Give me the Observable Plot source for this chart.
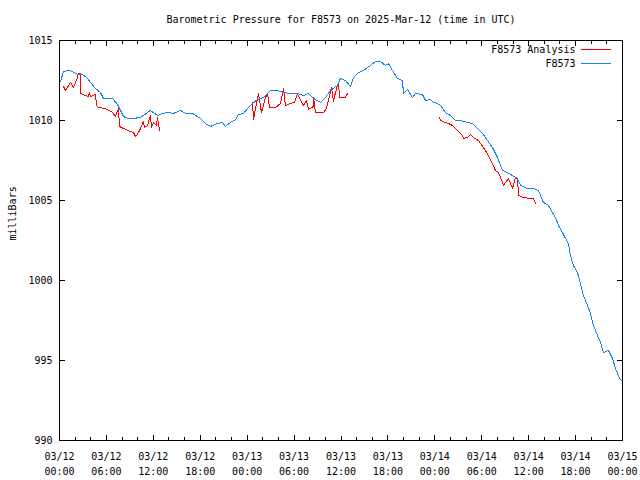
<!DOCTYPE html>
<html><head><meta charset="utf-8">
<script src="https://cdn.jsdelivr.net/npm/d3@7"></script>
<script src="https://cdn.jsdelivr.net/npm/@observablehq/plot@0.6"></script>
<style>
body{margin:0;background:#fff}
#chart svg{shape-rendering:crispEdges}
</style>
</head><body><div id="chart"></div>
<script>
const title = "Barometric Pressure for F8573 on 2025-Mar-12 (time in UTC)";
const yLabel = "milliBars";
const seriesNames = ["F8573 Analysis", "F8573"];
const seriesColors = ["#ff0000", "#1585f0"];

// hours since 2025-03-12 00:00 UTC
const stationHours = [0.13,0.51,1.28,2.30,2.94,3.58,3.96,4.60,5.24,5.63,6.78,7.42,8.18,8.70,9.46,10.36,11.25,11.64,12.53,13.17,13.81,14.58,15.47,16.11,17.01,18.03,18.67,19.31,20.20,20.84,21.23,21.87,22.51,22.89,23.53,24.17,24.68,25.32,26.09,26.98,27.88,28.64,29.54,30.43,31.20,31.84,32.48,33.38,34.02,34.65,35.55,35.93,36.57,37.21,37.60,38.24,38.87,39.77,40.41,41.05,41.69,42.07,42.58,43.22,43.86,43.99,44.50,45.14,45.52,46.42,46.80,47.44,47.83,48.34,48.72,49.36,50.00,50.64,51.28,52.17,52.81,53.45,54.09,54.73,55.37,56.01,56.65,57.29,57.93,58.57,58.95,59.85,60.61,61.25,61.51,61.89,62.53,63.04,63.43,63.81,64.32,64.71,65.09,65.35,65.73,66.24,66.62,67.01,67.52,67.90,68.29,68.80,69.18,69.57,70.20,70.72,71.10,71.61,72.00];
const stationPressure = [1012.44,1013.06,1013.13,1012.88,1012.88,1012.63,1012.38,1012.00,1011.75,1011.38,1011.38,1011.00,1010.25,1010.13,1010.13,1010.19,1010.50,1010.63,1010.31,1010.44,1010.50,1010.44,1010.63,1010.44,1010.44,1010.13,1009.81,1009.63,1009.81,1009.88,1009.63,1009.88,1010.06,1010.38,1010.44,1010.81,1011.06,1011.31,1011.44,1011.88,1011.88,1011.75,1011.69,1011.69,1011.56,1011.69,1011.38,1011.13,1011.44,1011.88,1012.19,1012.63,1012.50,1012.13,1012.69,1013.00,1013.13,1013.44,1013.69,1013.69,1013.44,1013.56,1013.13,1012.63,1012.50,1011.69,1011.94,1011.44,1011.69,1011.63,1011.25,1011.31,1011.13,1011.06,1010.94,1010.50,1010.31,1010.00,1010.00,1009.88,1009.81,1009.50,1009.19,1008.75,1008.31,1007.69,1006.88,1006.75,1006.56,1006.38,1005.94,1005.75,1005.75,1005.63,1005.31,1004.88,1004.69,1004.25,1003.94,1003.44,1003.00,1002.63,1002.31,1001.56,1000.94,1000.50,999.81,999.06,998.44,997.94,997.19,996.56,996.13,995.50,995.63,995.13,994.50,993.88,993.69];

const analysisSegment = [1,1,1,1,1,1,1,1,1,1,1,1,1,1,1,1,1,1,1,1,1,1,1,1,1,1,1,1,1,1,1,1,1,1,1,
  2,2,2,2,2,2,2,2,2,2,2,2,2,2,2,2,2,2,2,2,2,2,2,2,2,2,2,2,2,2,2,
  3,3,3,3,3,3,3,3,3,3,3,3,3,3,3,3,3,3,3,3,3,3,3,3,3,3,3,3];
const analysisHours = [0.51,0.77,1.41,1.79,2.30,2.43,2.69,2.70,3.32,3.71,3.84,3.96,4.60,4.73,4.99,5.88,6.78,7.16,7.54,7.67,8.18,9.08,9.46,9.72,9.97,10.36,10.74,10.87,11.25,11.64,11.76,12.02,12.40,12.53,12.79,
  24.68,24.81,25.06,25.45,25.83,26.34,26.60,26.85,27.62,28.26,28.64,28.90,29.54,30.05,30.43,30.82,31.20,31.59,31.84,32.48,32.49,32.74,33.76,34.14,34.78,35.04,35.29,35.68,35.81,36.57,36.83,
  48.59,48.72,49.36,49.74,50.26,50.90,51.53,51.66,52.17,52.56,52.94,53.58,54.22,54.86,55.37,55.75,56.14,56.65,56.78,57.42,57.93,58.31,58.57,58.70,59.34,60.23,60.61,60.87];
const analysisPressure = [1012.13,1011.88,1012.38,1012.06,1012.69,1012.94,1012.94,1011.69,1011.56,1011.50,1011.75,1011.50,1011.63,1010.94,1010.81,1010.75,1010.50,1010.25,1010.75,1009.63,1009.50,1009.31,1009.25,1009.00,1009.13,1009.50,1009.94,1009.56,1009.69,1010.31,1009.56,1009.88,1009.69,1010.19,1009.38,
  1011.13,1010.06,1010.75,1011.69,1010.50,1011.44,1011.69,1010.81,1010.81,1011.06,1012.00,1010.94,1011.06,1011.13,1011.69,1011.25,1010.94,1011.25,1010.69,1010.88,1011.44,1010.50,1010.50,1010.75,1012.06,1011.19,1011.75,1012.38,1011.44,1011.44,1011.69,
  1010.19,1010.00,1009.88,1009.81,1009.69,1009.38,1009.06,1008.88,1008.94,1009.13,1008.94,1008.75,1008.31,1007.81,1007.31,1006.88,1006.75,1006.13,1005.94,1006.38,1005.75,1006.44,1006.38,1005.31,1005.19,1005.13,1005.13,1004.81];

const yTicks = [990, 995, 1000, 1005, 1010, 1015];
const xMajorTicks = [0, 6, 12, 18, 24, 30, 36, 42, 48, 54, 60, 66, 72];
const xTickLabels = ["03/12\n00:00","03/12\n06:00","03/12\n12:00","03/12\n18:00","03/13\n00:00","03/13\n06:00","03/13\n12:00","03/13\n18:00","03/14\n00:00","03/14\n06:00","03/14\n12:00","03/14\n18:00","03/15\n00:00"];
const xMinorTicks = [2,4,8,10,14,16,20,22,26,28,32,34,38,40,44,46,50,52,56,58,62,64,68,70];

const station = stationHours.map((h, i) => ({h, p: stationPressure[i]}));
const analysis = analysisHours.map((h, i) => ({h, p: analysisPressure[i], s: analysisSegment[i]}));

const tickShape = {draw(ctx, l) { ctx.moveTo(0, 0); ctx.lineTo(0, -l); }};
const MAJ = 5, MIN = 3;
const xDomain = [0, 72], yDomain = [990, 1015];

const chart = Plot.plot({
  width: 640, height: 480,
  marginLeft: 59, marginRight: 18, marginTop: 40, marginBottom: 40,
  style: {fontFamily: "'DejaVu Sans Mono', monospace", fontSize: "10px", background: "#fff", color: "#000"},
  x: {domain: xDomain},
  y: {domain: yDomain},
  marks: [
    Plot.axisY(yTicks, {anchor: "left", tickSize: 0, tickPadding: 7, label: null, tickFormat: d => String(d)}),
    Plot.axisX(xMajorTicks, {anchor: "bottom", tickSize: 0, tickPadding: 9, label: null, lineHeight: 1.5,
      tickFormat: d => xTickLabels[xMajorTicks.indexOf(d)]}),
    // inward ticks
    Plot.vector(xMajorTicks, {x: d => d, y: yDomain[0], length: MAJ, rotate: 0, anchor: "start", shape: tickShape, strokeWidth: 1}),
    Plot.vector(xMajorTicks, {x: d => d, y: yDomain[1], length: MAJ, rotate: 180, anchor: "start", shape: tickShape, strokeWidth: 1}),
    Plot.vector(xMinorTicks, {x: d => d, y: yDomain[0], length: MIN, rotate: 0, anchor: "start", shape: tickShape, strokeWidth: 1}),
    Plot.vector(xMinorTicks, {x: d => d, y: yDomain[1], length: MIN, rotate: 180, anchor: "start", shape: tickShape, strokeWidth: 1}),
    Plot.vector(yTicks, {x: xDomain[0], y: d => d, length: MAJ, rotate: 90, anchor: "start", shape: tickShape, strokeWidth: 1}),
    Plot.vector(yTicks, {x: xDomain[1], y: d => d, length: MAJ, rotate: -90, anchor: "start", shape: tickShape, strokeWidth: 1}),
    Plot.line(analysis, {x: "h", y: "p", z: "s", stroke: seriesColors[0], strokeWidth: 1}),
    Plot.line(station, {x: "h", y: "p", stroke: seriesColors[1], strokeWidth: 1}),
    Plot.frame({stroke: "#000"}),
    Plot.text([title], {frameAnchor: "top", lineAnchor: "middle", dy: -21, text: d => d}),
    Plot.text([yLabel], {frameAnchor: "left", lineAnchor: "middle", dx: -47, rotate: -90, text: d => d}),
    // legend
    Plot.text([seriesNames[0]], {frameAnchor: "top-right", lineAnchor: "middle", dx: -47, dy: 9, textAnchor: "end", text: d => d}),
    Plot.text([seriesNames[1]], {frameAnchor: "top-right", lineAnchor: "middle", dx: -47, dy: 23, textAnchor: "end", text: d => d}),
    Plot.ruleY([yDomain[1]], {dy: 9, insetLeft: 522, insetRight: 11, stroke: seriesColors[0], strokeWidth: 1}),
    Plot.ruleY([yDomain[1]], {dy: 23, insetLeft: 522, insetRight: 11, stroke: seriesColors[1], strokeWidth: 1})
  ]
});
document.getElementById("chart").appendChild(chart);
</script>
</body></html>
